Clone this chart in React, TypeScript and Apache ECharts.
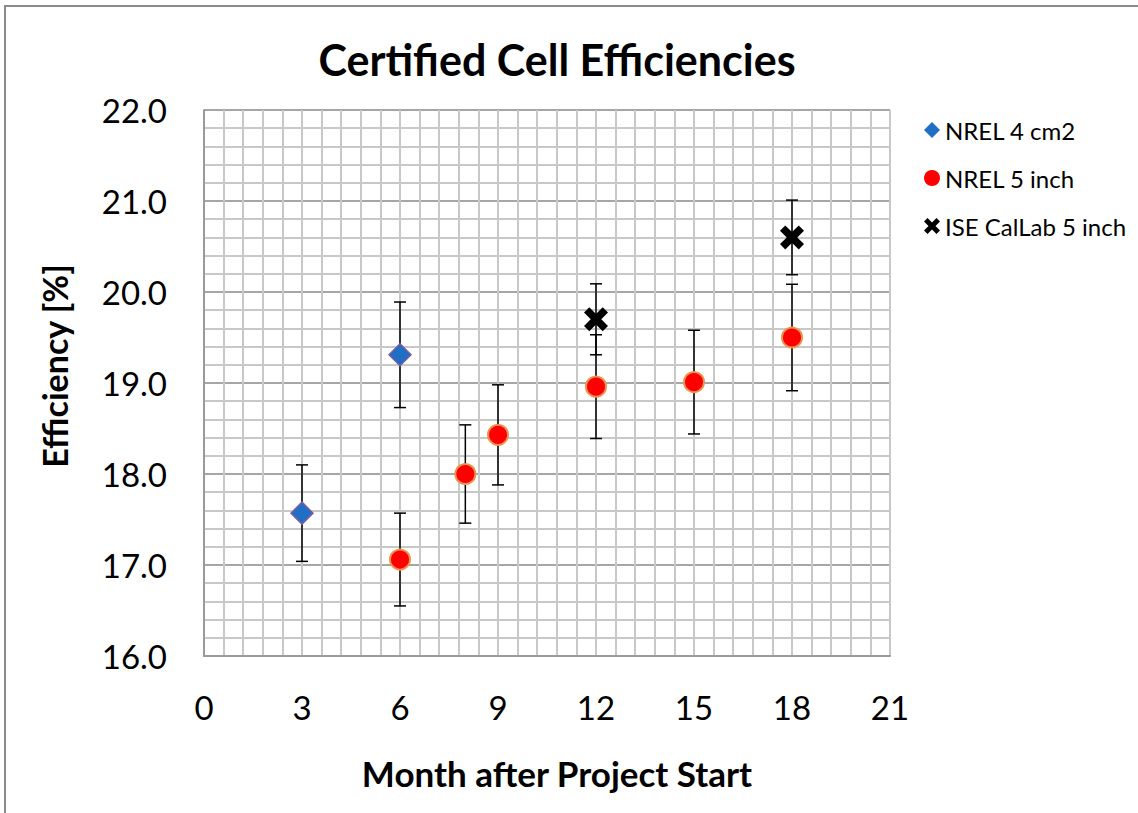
import React, { useEffect, useRef } from "react";
import * as echarts from "echarts";

const xTicks = [0, 3, 6, 9, 12, 15, 18, 21];
const yTicks = [16, 17, 18, 19, 20, 21, 22];

const nrel4Months = [3, 6];
const nrel4Eff = [17.57, 19.31];
const nrel4Err = [0.53, 0.58];

const nrel5Months = [6, 8, 9, 12, 15, 18];
const nrel5Eff = [17.06, 18.0, 18.43, 18.96, 19.01, 19.5];
const nrel5Err = [0.51, 0.54, 0.55, 0.57, 0.57, 0.585];

const iseMonths = [12, 18];
const iseEff = [19.7, 20.6];
const iseErr = [0.39, 0.41];

const seriesNames = ["NREL 4 cm2", "NREL 5 inch", "ISE CalLab 5 inch"];

const X_PATH =
  "path://M0,2.2 L2.2,0 L5,2.8 L7.8,0 L10,2.2 L7.2,5 L10,7.8 L7.8,10 L5,7.2 L2.2,10 L0,7.8 L2.8,5 Z";

const FONT = "Lato, 'Open Sans', sans-serif";

function errorSeries(xs: number[], ys: number[], es: number[]) {
  return {
    type: "custom",
    silent: true,
    z: 1,
    data: xs.map((x, i) => [x, ys[i], es[i]]),
    encode: { x: 0, y: 1 },
    renderItem: (params: any, api: any) => {
      const x = api.value(0);
      const y = api.value(1);
      const e = api.value(2);
      const t = api.coord([x, y + e]);
      const b = api.coord([x, y - e]);
      const hw = 6;
      const style = { stroke: "#000", lineWidth: 1.5 };
      return {
        type: "group",
        children: [
          { type: "line", shape: { x1: t[0], y1: t[1], x2: b[0], y2: b[1] }, style },
          { type: "line", shape: { x1: t[0] - hw, y1: t[1], x2: t[0] + hw, y2: t[1] }, style },
          { type: "line", shape: { x1: b[0] - hw, y1: b[1], x2: b[0] + hw, y2: b[1] }, style },
        ],
      };
    },
  };
}

export default function App() {
  const ref = useRef<HTMLDivElement>(null);
  useEffect(() => {
    if (!ref.current) return;
    const chart = echarts.init(ref.current, undefined, { renderer: "svg" });
    chart.setOption({
      animation: false,
      backgroundColor: "#fff",
      grid: { left: 204, top: 110, width: 686, height: 546, containLabel: false },
      xAxis: {
        type: "value",
        min: xTicks[0],
        max: xTicks[xTicks.length - 1],
        interval: 3,
        axisLine: { show: true, lineStyle: { color: "#9a9a9a", width: 2 } },
        axisTick: { show: false },
        axisLabel: { fontSize: 33, color: "#000", fontFamily: FONT, margin: 34 },
        splitLine: { show: true, lineStyle: { color: "#c8c8c8", width: 2 } },
        minorSplitLine: { show: true, lineStyle: { color: "#c8c8c8", width: 2 } },
        minorTick: { show: false, splitNumber: 5 },
      },
      yAxis: {
        type: "value",
        min: yTicks[0],
        max: yTicks[yTicks.length - 1],
        interval: 1,
        axisLine: { show: true, lineStyle: { color: "#9a9a9a", width: 2 } },
        axisTick: { show: false },
        axisLabel: {
          fontSize: 33,
          color: "#000",
          fontFamily: FONT,
          margin: 37,
          formatter: (v: number) => v.toFixed(1),
        },
        splitLine: { show: true, lineStyle: { color: "#a6a6a6", width: 2 } },
        minorSplitLine: { show: true, lineStyle: { color: "#c8c8c8", width: 2 } },
        minorTick: { show: false, splitNumber: 5 },
      },
      legend: {
        orient: "vertical",
        left: 919,
        top: 112,
        itemGap: 22,
        itemWidth: 16,
        itemHeight: 16,
        textStyle: { fontSize: 24, color: "#000", fontFamily: FONT, lineHeight: 26 },
        data: [
          { name: seriesNames[0], icon: "diamond", itemStyle: { color: "#1f6fc4", borderWidth: 0 } },
          { name: seriesNames[1], icon: "circle", itemStyle: { color: "#ff0000", borderWidth: 0 } },
          { name: seriesNames[2], icon: X_PATH, itemStyle: { color: "#000", borderWidth: 0 } },
        ],
      },
      graphic: [
        {
          type: "rect",
          silent: true,
          shape: { x: 5, y: 6, width: 1200, height: 900 },
          style: { fill: "none", stroke: "#8a8a8a", lineWidth: 2 },
        },
        {
          type: "text",
          x: 557,
          y: 59,
          style: {
            text: "Certified Cell Efficiencies",
            font: `bold 43px ${FONT}`,
            fill: "#000",
            align: "center",
            verticalAlign: "middle",
          },
        },
        {
          type: "text",
          x: 557,
          y: 773,
          style: {
            text: "Month after Project Start",
            font: `bold 35px ${FONT}`,
            fill: "#000",
            align: "center",
            verticalAlign: "middle",
          },
        },
        {
          type: "text",
          x: 54,
          y: 366,
          rotation: Math.PI / 2,
          style: {
            text: "Efficiency [%]",
            font: `bold 34px ${FONT}`,
            fill: "#000",
            align: "center",
            verticalAlign: "middle",
          },
        },
      ],
      series: [
        errorSeries(nrel4Months, nrel4Eff, nrel4Err),
        errorSeries(nrel5Months, nrel5Eff, nrel5Err),
        errorSeries(iseMonths, iseEff, iseErr),
        {
          name: seriesNames[0],
          type: "scatter",
          z: 3,
          symbol: "diamond",
          symbolSize: 22,
          itemStyle: { color: "#1f6fc4", borderColor: "#7a5ea6", borderWidth: 1.5, opacity: 1 },
          data: nrel4Months.map((x, i) => [x, nrel4Eff[i]]),
        },
        {
          name: seriesNames[1],
          type: "scatter",
          z: 3,
          symbol: "circle",
          symbolSize: 20,
          itemStyle: { color: "#ff0000", borderColor: "#e8944f", borderWidth: 2, opacity: 1 },
          data: nrel5Months.map((x, i) => [x, nrel5Eff[i]]),
        },
        {
          name: seriesNames[2],
          type: "scatter",
          z: 3,
          symbol: X_PATH,
          symbolSize: 24,
          itemStyle: { color: "#000", opacity: 1 },
          data: iseMonths.map((x, i) => [x, iseEff[i]]),
        },
      ],
    });
    return () => chart.dispose();
  }, []);
  return (
    <div
      ref={ref}
      style={{ position: "absolute", left: 0, top: 0, width: 1138, height: 813, background: "#fff" }}
    />
  );
}
